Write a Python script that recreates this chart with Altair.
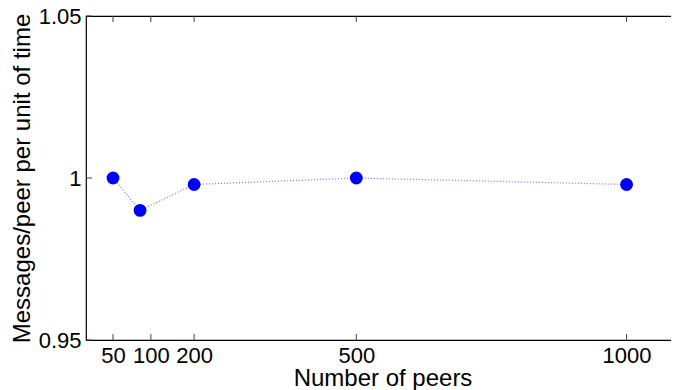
import altair as alt
import pandas as pd

peers = [50, 100, 200, 500, 1000]
messages = [1.000, 0.990, 0.998, 1.000, 0.998]

x_tick_values = [50, 120, 200, 500, 1000]
x_tick_labels = ["50", "100", "200", "500", "1000"]
y_tick_values = [0.95, 1.0, 1.05]
y_tick_labels = ["0.95", "1", "1.05"]

X_MIN, X_MAX = 0, 1097
Y_MIN, Y_MAX = 0.95, 1.05
W, H = 593, 324
FONT = "Liberation Sans"

df = pd.DataFrame({"peers": peers, "messages": messages})

label_expr = " : ".join(
    f"datum.value == {v} ? '{l}'" for v, l in zip(x_tick_values, x_tick_labels)
) + " : datum.label"
ylabel_expr = " : ".join(
    f"abs(datum.value - {v}) < 1e-6 ? '{l}'" for v, l in zip(y_tick_values, y_tick_labels)
) + " : datum.label"

xscale = alt.Scale(domain=[X_MIN, X_MAX], nice=False, zero=False)
yscale = alt.Scale(domain=[Y_MIN, Y_MAX], nice=False, zero=False)

xaxis = alt.Axis(
    values=x_tick_values, labelExpr=label_expr, grid=False, ticks=False,
    domain=False, labelFont=FONT, labelFontSize=22, labelColor="black",
    labelPadding=5, labelOverlap=False, labelFlush=False,
    title="Number of peers", titleFont=FONT, titleFontSize=24,
    titleFontWeight="normal", titleColor="black", titlePadding=0,
)
yaxis = alt.Axis(
    values=y_tick_values, labelExpr=ylabel_expr, grid=False, ticks=False,
    domain=False, labelFont=FONT, labelFontSize=22, labelColor="black",
    labelPadding=5, labelOverlap=False, labelFlush=False,
    title="Messages/peer per unit of time", titleFont=FONT, titleFontSize=24,
    titleFontWeight="normal", titleColor="black", titlePadding=4,
)

line = alt.Chart(df).mark_line(
    color="#0000ff", strokeWidth=1.2, strokeDash=[1, 2], opacity=0.55
).encode(
    x=alt.X("peers:Q", scale=xscale, axis=xaxis),
    y=alt.Y("messages:Q", scale=yscale, axis=yaxis),
)

points = alt.Chart(df).mark_circle(
    color="#0000ff", size=165, opacity=1
).encode(x="peers:Q", y="messages:Q")

# inward tick marks (MATLAB style), positioned through the scales
tl_x = 11
tl_y = 0.00185
xt = pd.DataFrame({"v": x_tick_values})
yt = pd.DataFrame({"v": y_tick_values})
tick_style = dict(color="#404040", strokeWidth=1)

bottom_ticks = alt.Chart(xt).transform_calculate(
    y0=f"{Y_MIN}", y1=f"{Y_MIN + tl_y}"
).mark_rule(**tick_style).encode(x="v:Q", y="y0:Q", y2="y1:Q")
top_ticks = alt.Chart(xt).transform_calculate(
    y0=f"{Y_MAX}", y1=f"{Y_MAX - tl_y}"
).mark_rule(**tick_style).encode(x="v:Q", y="y0:Q", y2="y1:Q")
left_ticks = alt.Chart(yt).transform_calculate(
    x0=f"{X_MIN}", x1=f"{X_MIN + tl_x}"
).mark_rule(**tick_style).encode(y="v:Q", x="x0:Q", x2="x1:Q")
right_ticks = alt.Chart(yt).transform_calculate(
    x0=f"{X_MAX}", x1=f"{X_MAX - tl_x}"
).mark_rule(**tick_style).encode(y="v:Q", x="x0:Q", x2="x1:Q")

chart = alt.layer(
    bottom_ticks, top_ticks, left_ticks, right_ticks, line, points
).properties(
    width=W, height=H,
    autosize=alt.AutoSizeParams(type="none"),
    padding={"left": 78, "top": 8, "right": -8, "bottom": 50},
    background="white",
).configure_view(
    stroke="black", strokeWidth=1.2
)

chart.save("out.html", embed_options={"renderer": "svg", "actions": False})
